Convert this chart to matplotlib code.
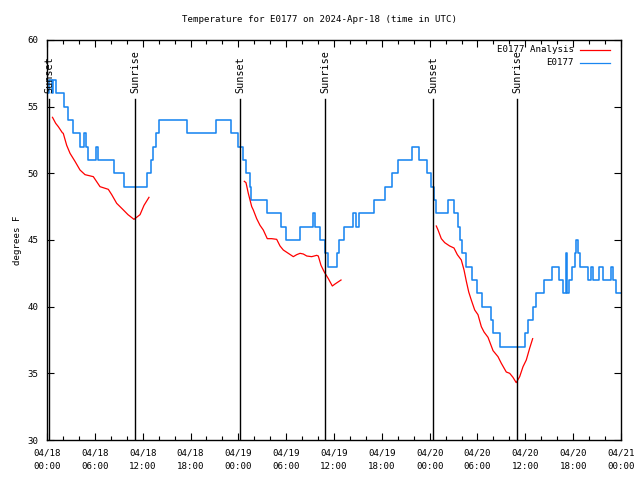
import matplotlib
matplotlib.use("Agg")
import matplotlib.pyplot as plt
import numpy as np

# ---- data (hours since 2024-04-18 00:00 UTC) ----
obs_hours = [0.0, 0.25, 0.63, 0.8, 1.07, 2.13, 2.63, 3.26, 4.2, 4.64, 4.83, 5.2, 6.2, 6.4,
             8.4, 9.6, 12.6, 13.0, 13.3, 13.7, 14.05, 17.6, 21.2, 23.1, 24.0, 24.6, 25.0,
             25.45, 25.6, 27.6, 29.35, 30.0, 31.75, 33.4, 33.6, 34.25, 34.9, 35.25, 36.4,
             36.6, 37.25, 38.4, 38.75, 39.1, 41.0, 42.35, 43.3, 44.0, 45.8, 46.65, 47.7,
             48.2, 48.55, 48.85, 50.3, 51.0, 51.55, 51.75, 52.0, 52.6, 53.3, 53.9, 54.6,
             55.7, 55.95, 56.8, 60.0, 60.3, 60.95, 61.35, 62.35, 63.35, 64.2, 64.7, 65.1,
             65.2, 65.5, 65.85, 66.2, 66.35, 66.6, 66.85, 67.85, 68.2, 68.5, 69.25, 69.75,
             70.7, 71.0, 71.4, 72.0]
obs_temp = [56, 57, 56, 57, 56, 55, 54, 53, 52, 53, 52, 51, 52, 51,
            50, 49, 50, 51, 52, 53, 54, 53, 54, 53, 52, 51, 50,
            49, 48, 47, 46, 45, 46, 47, 46, 45, 44, 43, 44,
            45, 46, 47, 46, 47, 48, 49, 50, 51, 52, 51, 50,
            49, 48, 47, 48, 47, 46, 45, 44, 43, 42, 41, 40,
            39, 38, 37, 38, 39, 40, 41, 42, 43, 42, 41, 44,
            41, 42, 43, 44, 45, 44, 43, 42, 43, 42, 43, 42,
            43, 42, 41, 41]

ana1_hours = [0.69, 1.09, 1.42, 1.92, 2.04, 2.47, 2.89, 3.51, 4.14, 4.77, 5.81, 6.65, 7.69,
              8.12, 8.74, 9.50, 10.16, 10.91, 11.67, 12.17, 12.79]
ana1_temp = [54.2, 53.75, 53.5, 53.05, 53.0, 52.1, 51.5, 50.9, 50.25, 49.9, 49.75, 49.0, 48.8,
             48.4, 47.75, 47.3, 46.9, 46.55, 46.9, 47.6, 48.2]

ana2_hours = [24.75, 24.96, 25.25, 25.68, 25.88, 26.30, 26.72, 27.13, 27.63, 28.19, 28.81,
              29.23, 29.64, 30.27, 30.90, 31.32, 31.74, 32.15, 32.58, 33.20, 33.83, 34.03,
              34.37, 34.78, 35.29, 35.79, 36.13, 36.88]
ana2_temp = [49.4, 49.3, 48.5, 47.5, 47.25, 46.6, 46.1, 45.75, 45.1, 45.1, 45.05,
             44.55, 44.25, 44.0, 43.75, 43.9, 44.0, 43.95, 43.8, 43.75, 43.85, 43.8,
             43.1, 42.6, 42.1, 41.55, 41.7, 42.0]

ana3_hours = [48.83, 49.05, 49.46, 49.89, 50.51, 51.05, 51.47, 51.97, 52.31, 52.60, 52.90,
              53.22, 53.65, 54.06, 54.48, 54.82, 55.32, 55.95, 56.57, 56.99, 57.61, 58.04,
              58.45, 58.86, 59.29, 59.71, 60.12, 60.55, 60.92]
ana3_temp = [46.05, 45.75, 45.1, 44.8, 44.55, 44.4, 43.9, 43.5, 42.75, 41.9, 41.1,
             40.5, 39.75, 39.4, 38.5, 38.1, 37.7, 36.7, 36.25, 35.75, 35.1, 35.0,
             34.7, 34.3, 34.75, 35.5, 36.0, 36.9, 37.6]

event_hours = [0.28, 11.04, 24.21, 34.87, 48.42, 58.96]
event_names = ["Sunset", "Sunrise", "Sunset", "Sunrise", "Sunset", "Sunrise"]

tick_hours = list(range(0, 73, 6))
tick_dates = ["04/18", "04/18", "04/18", "04/18", "04/19", "04/19", "04/19",
              "04/19", "04/20", "04/20", "04/20", "04/20", "04/21"]
tick_times = ["00:00", "06:00", "12:00", "18:00"] * 3 + ["00:00"]

# ---- style ----
FONT = "DejaVu Sans Mono"
FS = 6.6
RED = "#ff0000"
BLUE = "#1a86f0"

fig = plt.figure(figsize=(6.4, 4.8), dpi=100)
ax = fig.add_axes([47/640, 40/480, 574/640, 400/480])

ax.plot(obs_hours, obs_temp, drawstyle="steps-post", color=BLUE, lw=1.15)
for h, t in [(ana1_hours, ana1_temp), (ana2_hours, ana2_temp), (ana3_hours, ana3_temp)]:
    ax.plot(h, t, color=RED, lw=0.9)

for eh, name in zip(event_hours, event_names):
    ax.axvline(eh, ymin=0, ymax=0.8525, color="black", lw=1.0)
    ax.text(eh, 0.8675, name, transform=ax.get_xaxis_transform(), rotation=90,
            ha="center", va="bottom", fontsize=7.3, family=FONT)

ax.set_xlim(0, 72)
ax.set_ylim(30, 60)
ax.set_xticks(tick_hours)
ax.set_xticklabels([f"{d}\n{t}" for d, t in zip(tick_dates, tick_times)],
                   fontsize=FS, family=FONT, linespacing=1.65)
ax.set_xticks(np.arange(0, 73, 2), minor=True)
ax.set_yticks(np.arange(30, 61, 5))
ax.set_yticklabels([str(v) for v in range(30, 61, 5)], fontsize=FS, family=FONT)
ax.tick_params(which="major", direction="in", length=5, width=0.8, top=True, right=True)
ax.tick_params(which="minor", direction="in", length=3, width=0.8, top=True, right=True)
ax.tick_params(axis="x", which="major", pad=6)
ax.tick_params(axis="y", pad=6)
for s in ax.spines.values():
    s.set_linewidth(1.0)

ax.set_ylabel("degrees F", fontsize=FS, family=FONT, labelpad=4)
fig.text(0.5, 1 - 19/480, "Temperature for E0177 on 2024-Apr-18 (time in UTC)",
         ha="center", va="center", fontsize=FS, family=FONT)

# legend key
ax.text(0.918, 0.975, "E0177 Analysis", transform=ax.transAxes, ha="right", va="center",
        fontsize=FS, family=FONT)
ax.plot([0.9286, 0.981], [0.975, 0.975], transform=ax.transAxes, color=RED, lw=0.9)
ax.text(0.918, 0.9425, "E0177", transform=ax.transAxes, ha="right", va="center",
        fontsize=FS, family=FONT)
ax.plot([0.9286, 0.981], [0.9425, 0.9425], transform=ax.transAxes, color=BLUE, lw=0.9)

fig.savefig("out.png", dpi=100)
